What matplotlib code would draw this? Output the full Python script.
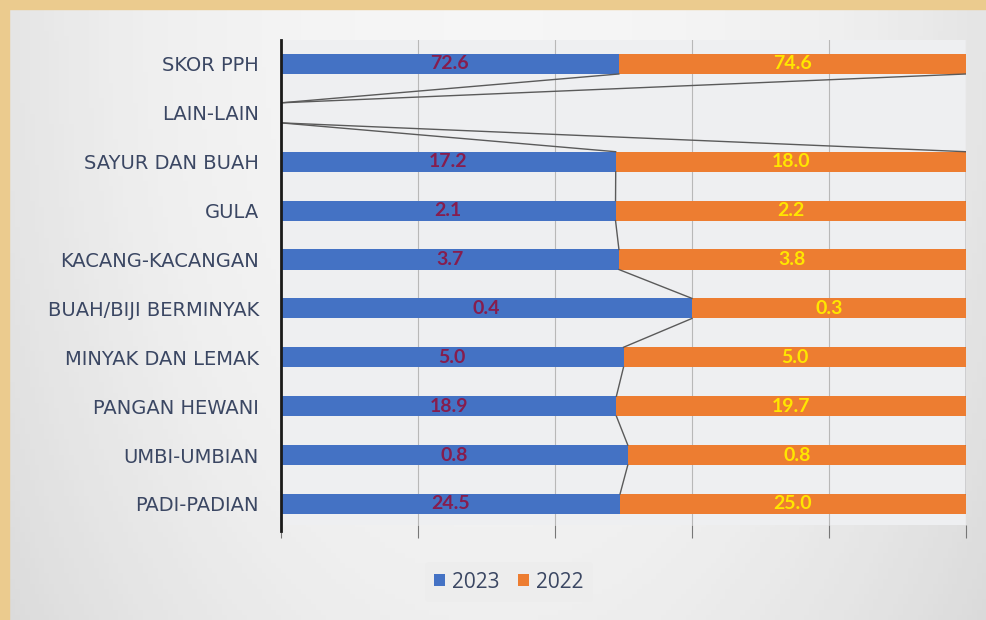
import numpy as np
import matplotlib
matplotlib.use("Agg")
import matplotlib.pyplot as plt
from matplotlib.patches import Rectangle

categories = ["SKOR PPH", "LAIN-LAIN", "SAYUR DAN BUAH", "GULA", "KACANG-KACANGAN",
              "BUAH/BIJI BERMINYAK", "MINYAK DAN LEMAK", "PANGAN HEWANI",
              "UMBI-UMBIAN", "PADI-PADIAN"]
v2023 = [72.6, 0.0, 17.2, 2.1, 3.7, 0.42, 5.0, 18.9, 0.81, 24.5]
v2022 = [74.6, 0.0, 18.0, 2.2, 3.8, 0.28, 5.0, 19.7, 0.79, 25.0]
series_names = ["2023", "2022"]

plt.rcParams['font.family'] = ['Open Sans', 'DejaVu Sans']

a = np.array(v2023)
b = np.array(v2022)
tot = a + b
fa = np.where(tot > 0, a / np.where(tot > 0, tot, 1), 0)
fb = np.where(tot > 0, b / np.where(tot > 0, tot, 1), 0)

fig = plt.figure(figsize=(9.87, 6.2), dpi=100)
fig.patch.set_facecolor('#E2E2E2')

# background gradient
bg = fig.add_axes([0, 0, 1, 1], zorder=-10)
xx = np.linspace(-1, 1, 200)
yy = np.linspace(-1, 1, 120)
X, Y = np.meshgrid(xx, yy)
G = 1 - 0.5 * (X**2) - 0.25 * ((Y + 1) / 2) ** 2
bg.imshow(G, cmap='Greys_r', vmin=-3.2, vmax=1.35, aspect='auto', extent=[0, 1, 0, 1])
bg.add_patch(Rectangle((0, 0), 9 / 987, 1, color='#EBCB8E', transform=bg.transAxes))
bg.add_patch(Rectangle((0, 1 - 9 / 620), 1, 9 / 620, color='#EBCB8E', transform=bg.transAxes))
bg.set_xlim(0, 1); bg.set_ylim(0, 1)
bg.axis('off')

ax = fig.add_axes([281 / 987, 1 - 525 / 620, (966 - 281) / 987, (525 - 40) / 620])
ax.set_facecolor('#EEEFF1')

y = np.arange(len(categories))
h = 0.41
c_blue = '#4472C4'
c_orange = '#ED7D31'
ax.barh(y, fa, height=h, color=c_blue, label=series_names[0], zorder=3)
ax.barh(y, fb, left=fa, height=h, color=c_orange, label=series_names[1], zorder=3)

# series lines
cum1 = fa
cum2 = fa + fb
for i in range(len(categories) - 1):
    for c in (cum1, cum2):
        ax.plot([c[i], c[i + 1]], [y[i] + h / 2, y[i + 1] - h / 2],
                color='#5A5A5A', lw=1.0, zorder=4)

# data labels
for i in range(len(categories)):
    if tot[i] > 0:
        ax.text(fa[i] / 2, y[i], f"{a[i]:.1f}", ha='center', va='center',
                color='#861D4E', fontsize=14, fontweight='bold', zorder=5,
                family=['Lato', 'DejaVu Sans'])
        ax.text(fa[i] + fb[i] / 2, y[i], f"{b[i]:.1f}", ha='center', va='center',
                color='#FFE600', fontsize=14, fontweight='bold', zorder=5,
                family=['Lato', 'DejaVu Sans'])

ax.set_xlim(0, 1)
ax.set_ylim(len(categories) - 1 + 0.43, -0.49)
ax.set_xticks(np.linspace(0, 1, 6))
ax.set_xticklabels([])
ax.grid(axis='x', color='#B8B8B8', lw=0.8, zorder=0)
ax.set_yticks(y)
ax.set_yticklabels(categories, fontsize=14, color='#3B4763',
                   family=['DejaVu Sans'])
ax.tick_params(axis='y', length=0, pad=16)
ax.tick_params(axis='x', direction='out', length=9, color='#777777', width=0.8)
for s in ['top', 'right', 'bottom']:
    ax.spines[s].set_visible(False)
ax.spines['left'].set_color('#1A1A1A')
ax.spines['left'].set_linewidth(2)
ax.spines['left'].set_bounds(-0.49, len(categories) - 1 + 0.55)
ax.spines['left'].set_zorder(6)

leg = fig.legend(loc='center', bbox_to_anchor=(509 / 987, 1 - 582 / 620), ncol=2,
                 frameon=True, fontsize=15, handlelength=0.5, handleheight=0.5,
                 handletextpad=0.35, columnspacing=0.9, borderpad=0.45)
leg.get_frame().set_facecolor('#EDEDED')
leg.get_frame().set_edgecolor('none')
for t in leg.get_texts():
    t.set_color('#3B4763')

fig.savefig('out.png', dpi=100, facecolor=fig.get_facecolor())
